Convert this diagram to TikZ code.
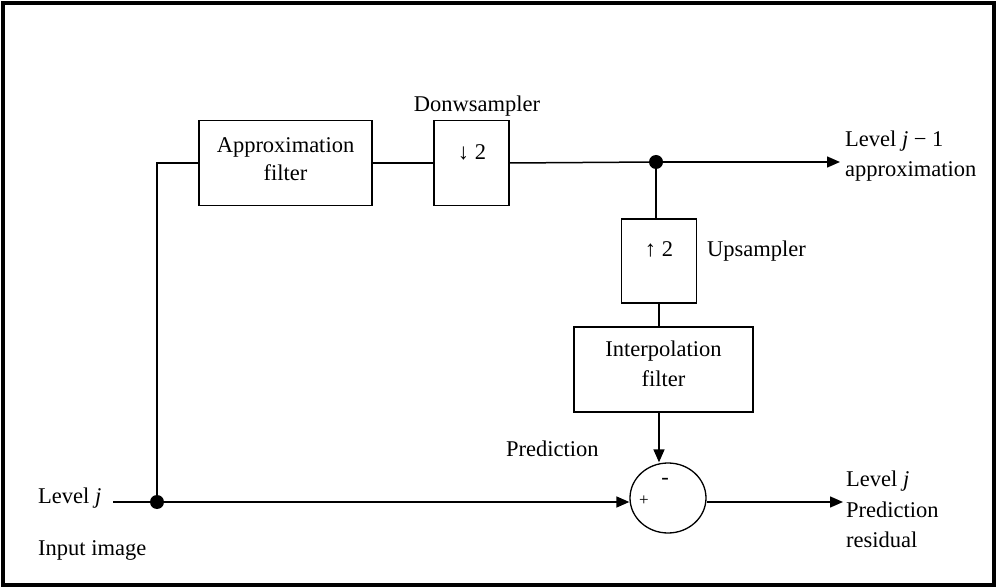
\documentclass[tikz,border=0pt]{standalone}
\usepackage{fontspec}
\setmainfont{Liberation Serif}
\usetikzlibrary{arrows.meta,shapes.geometric}

\tikzset{
  blockbox/.style={draw, line width=1.2pt, inner sep=0pt},
  txt/.style={inner sep=0pt, font=\fontsize{22.5}{27}\selectfont},
  wire/.style={line width=1.5pt},
  flow/.style={wire, -{Triangle[length=13pt,width=11pt]}},
  junction/.style={circle, fill=black, inner sep=0pt, minimum size=14pt},
}

\begin{document}
\begin{tikzpicture}[x=1pt, y=-1pt]
  \useasboundingbox (0,0) rectangle (997,588);
  % outer frame
  \draw[line width=4pt] (3,3) rectangle (994,585);

  % blocks
  \node[blockbox, minimum width=173pt, minimum height=85pt] (af) at (285.5,163) {};
  \node[blockbox, minimum width=75pt,  minimum height=85pt] (ds) at (471.5,163) {};
  \node[blockbox, minimum width=75pt,  minimum height=84pt] (us) at (659,261) {};
  \node[blockbox, minimum width=179pt, minimum height=85pt] (ip) at (663.5,369.5) {};
  \node[draw, ellipse, line width=1.3pt, inner sep=0pt,
        minimum width=76pt, minimum height=70pt] (sum) at (668,498) {};

  % block texts
  \node[txt, anchor=base] (aft1) at (285.5,153) {Approximation};
  \node[txt, anchor=base] (aft2) at (285.5,181) {filter};
  \node[txt, anchor=base] (dst)  at (472,160) {↓ 2};
  \node[txt, anchor=base] (ust)  at (659,257) {↑ 2};
  \node[txt, anchor=base] (ipt1) at (663.5,356) {Interpolation};
  \node[txt, anchor=base] (ipt2) at (663.5,387) {filter};
  \node[txt, anchor=base] (minus) at (665,484) {-};
  \node[txt, anchor=base, font=\fontsize{17}{20}\selectfont] (plus) at (644,505) {+};

  % labels
  \node[txt, anchor=base] (dslab) at (477,112) {Donwsampler};
  \node[txt, anchor=base west] (uslab) at (707,257) {Upsampler};
  \node[txt, anchor=base west] (predlab) at (506,456) {Prediction};
  \node[txt, anchor=base west] (inlev) at (38,503) {Level \textit{j}};
  \node[txt, anchor=base west] (inimg) at (38,555) {Input image};
  \node[txt, anchor=base west] (outa1) at (845,147) {Level \textit{j} − 1};
  \node[txt, anchor=base west] (outa2) at (845,177) {approximation};
  \node[txt, anchor=base west] (outr1) at (846,486) {Level \textit{j}};
  \node[txt, anchor=base west] (outr2) at (846,517) {Prediction};
  \node[txt, anchor=base west] (outr3) at (846,547) {residual};

  % junctions and free ends
  \node[junction] (jtop) at (656,162) {};
  \node[junction] (jbot) at (157,502) {};
  \coordinate (inend) at (113,502);
  \coordinate (outtop) at (840,162);
  \coordinate (outbot) at (843,502);

  % top branch
  \draw[wire] (jbot) |- (af.west);
  \draw[wire] (af.east) -- (ds.west);
  \draw[wire] (ds.east) -- (jtop);
  \draw[flow] (jtop) -- (outtop);

  % prediction branch
  \draw[wire] (jtop) -- (jtop |- us.north);
  \draw[wire] (us.south) -- (us.south |- ip.north);
  \draw[flow] (us.south |- ip.south) -- (us.south |- sum.north);

  % bottom path
  \draw[wire] (inend) -- (jbot);
  \draw[flow] (jbot) -- (jbot -| sum.west);
  \draw[flow] (sum.east |- jbot) -- (outbot);
\end{tikzpicture}
\end{document}
